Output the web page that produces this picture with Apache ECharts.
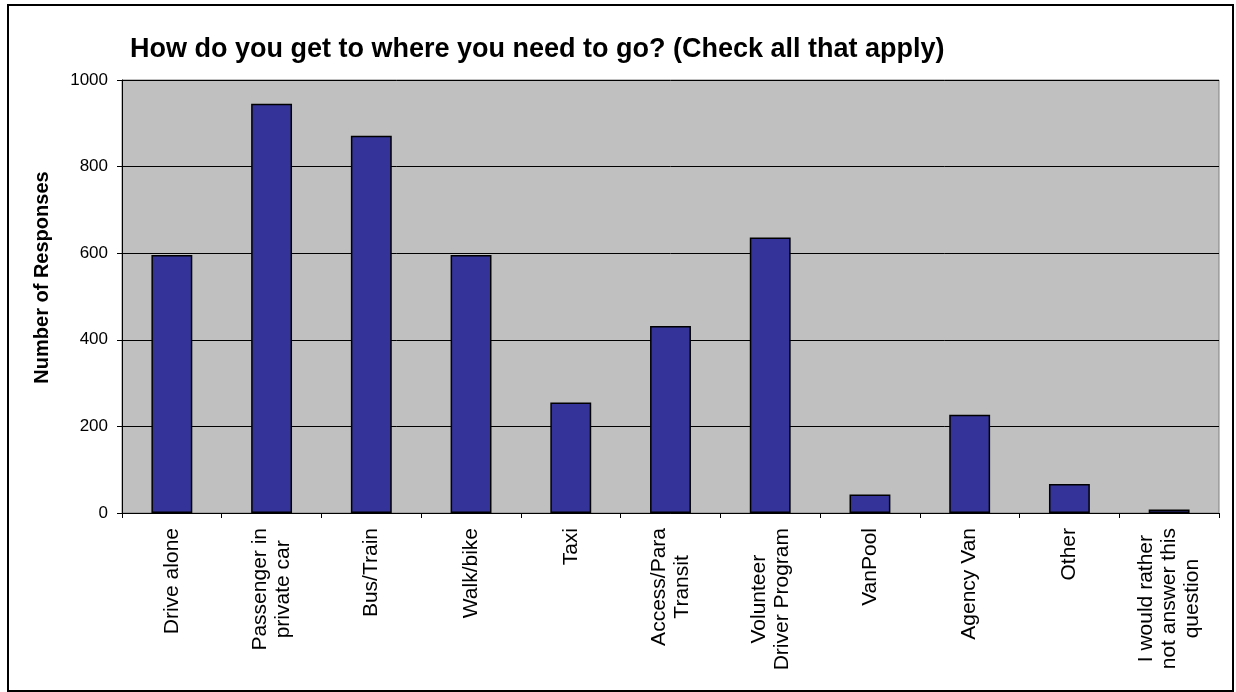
<!DOCTYPE html>
<html>
<head>
<meta charset="utf-8">
<script src="https://cdn.jsdelivr.net/npm/echarts@6/dist/echarts.min.js"></script>
<style>
html,body{margin:0;padding:0;background:#fff;}
#chart{width:1236px;height:692px;}
</style>
</head>
<body>
<div id="chart"></div>
<script>
const titleText = 'How do you get to where you need to go? (Check all that apply)';
const yAxisTitle = 'Number of Responses';
const categories = [
  'Drive alone',
  'Passenger in\nprivate car',
  'Bus/Train',
  'Walk/bike',
  'Taxi',
  'Access/Para\nTransit',
  'Volunteer\nDriver Program',
  'VanPool',
  'Agency Van',
  'Other',
  'I would rather\nnot answer this\nquestion'
];
const responses = [596, 945, 871, 596, 255, 432, 636, 43, 227, 67, 8];
const yMin = 0, yMax = 1000, yStep = 200;

const FONT = '"Liberation Sans", Arial, sans-serif';
const chart = echarts.init(document.getElementById('chart'), null, {renderer: 'canvas'});
chart.setOption({
  animation: false,
  backgroundColor: '#ffffff',
  graphic: [{
    type: 'rect', left: 7, top: 4, z: -10,
    shape: {width: 1225, height: 686},
    style: {fill: '#ffffff', stroke: '#000000', lineWidth: 2}
  }],
  title: {
    text: titleText, left: 125, top: 31,
    textStyle: {fontFamily: FONT, fontSize: 27, fontWeight: 'bold', color: '#000'}
  },
  grid: {
    left: 122, right: 17, top: 80, bottom: 179,
    show: true, backgroundColor: '#c0c0c0', borderColor: '#808080', borderWidth: 1
  },
  xAxis: {
    type: 'category', data: categories, boundaryGap: true,
    axisLine: {lineStyle: {color: '#000', width: 1}},
    axisTick: {show: true, length: 5, inside: false, lineStyle: {color: '#000'}},
    axisLabel: {
      rotate: 90, margin: 15, interval: 0,
      fontFamily: FONT, fontSize: 21, color: '#000', lineHeight: 23,
      formatter: v => v.split('\n').map(s => '{c|' + s + '}').join('\n'),
      rich: {c: {align: 'center', fontFamily: FONT, fontSize: 21, lineHeight: 23, color: '#000'}}
    }
  },
  yAxis: {
    type: 'value', min: yMin, max: yMax, interval: yStep,
    name: yAxisTitle, nameLocation: 'middle', nameGap: 70, nameRotate: 90,
    nameTextStyle: {fontFamily: FONT, fontSize: 20, fontWeight: 'bold', color: '#000', padding: [0, 0, 0, 38]},
    axisLine: {show: true, lineStyle: {color: '#000', width: 1}},
    axisTick: {show: true, length: 5, lineStyle: {color: '#000'}},
    axisLabel: {margin: 14, fontFamily: FONT, fontSize: 17, color: '#000', formatter: v => String(v)},
    splitLine: {show: true, lineStyle: {color: '#000', width: 1}}
  },
  series: [{
    type: 'bar', data: responses, barWidth: '41%',
    itemStyle: {color: '#333399', borderColor: '#000', borderWidth: 1.5}
  }]
});
</script>
</body>
</html>
